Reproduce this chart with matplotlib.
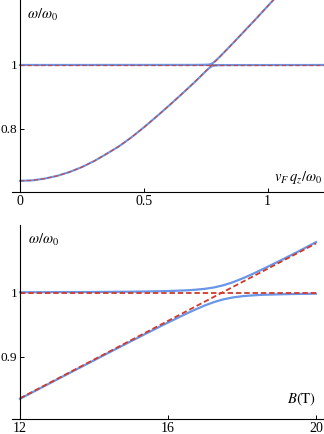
import matplotlib
matplotlib.use("Agg")
import matplotlib.pyplot as plt

# ------------------------------------------------------------------
# Plot style
# ------------------------------------------------------------------
plt.rcParams.update({
    "font.family": "Liberation Serif",
    "mathtext.fontset": "stix",
    "font.size": 10,
    "ytick.labelsize": 9.5,
    "axes.linewidth": 0.8,
    "xtick.direction": "in",
    "ytick.direction": "in",
    "xtick.major.size": 3,
    "ytick.major.size": 3,
    "xtick.major.width": 0.7,
    "ytick.major.width": 0.7,
    "xtick.major.pad": 2,
    "ytick.major.pad": 2,
})

BLUE = "#6a96e8"   # coupled modes
RED = "#d0392b"    # bare modes (dashed)

# ---- top panel: omega/omega0 vs v_F q_z / omega0 ----
q_bare = [0.0, 0.05, 0.1, 0.15, 0.2, 0.25, 0.3, 0.35, 0.4, 0.45, 0.5,
          0.55, 0.6, 0.65, 0.7, 0.75, 0.8, 0.85, 0.9, 0.95, 1.0, 1.03]
w_bare = [0.638, 0.6394, 0.645, 0.6535, 0.6655, 0.681, 0.700, 0.7225,
          0.746, 0.774, 0.805, 0.838, 0.872, 0.907, 0.943, 0.981, 1.020,
          1.060, 1.101, 1.142, 1.184, 1.209]
q_flat = [0.0, 1.23]
w_flat = [1.0, 1.0]

q_up = [0.0, 0.70, 0.74, 0.755, 0.765, 0.774, 0.782, 0.79, 0.80, 0.82,
        0.85, 0.9, 0.95, 1.0, 1.03]
w_up = [1.000, 1.0003, 1.0006, 1.0010, 1.0018, 1.004, 1.0082, 1.0137,
        1.0208, 1.0364, 1.0603, 1.101, 1.142, 1.184, 1.209]
q_lo = [0.0, 0.05, 0.1, 0.15, 0.2, 0.25, 0.3, 0.35, 0.4, 0.45, 0.5,
        0.55, 0.6, 0.65, 0.7, 0.74, 0.755, 0.765, 0.774, 0.782, 0.79,
        0.80, 0.82, 0.85, 0.9, 1.23]
w_lo = [0.638, 0.6394, 0.645, 0.6535, 0.6655, 0.681, 0.700, 0.7225,
        0.746, 0.774, 0.805, 0.838, 0.872, 0.907, 0.9427, 0.9729, 0.9842,
        0.9912, 0.996, 0.998, 0.9988, 0.9992, 0.9996, 0.9997, 0.9998, 1.0]

top_xticks = [0, 0.5, 1]
top_xlabels = ["0", "0.5", "1"]
top_yticks = [0.8, 1]
top_ylabels = ["0.8", "1"]

# ---- bottom panel: omega/omega0 vs B (T) ----
B_bare = [12, 20]
w_cyc = [0.835, 1.077]
B_flat = [12, 20]

B = [12, 13, 14, 15, 15.5, 16, 16.5, 16.75, 17, 17.25, 17.5, 17.75, 18,
     18.25, 18.5, 19, 19.5, 20]
w_B_up = [1.0007, 1.0009, 1.0011, 1.0016, 1.0020, 1.0026, 1.0037, 1.0047,
          1.0061, 1.0083, 1.0117, 1.0163, 1.0220, 1.0283, 1.0351, 1.0492,
          1.0638, 1.0790]
w_B_lo = [0.8343, 0.8644, 0.8944, 0.9242, 0.9389, 0.9534, 0.9674, 0.9740,
          0.9802, 0.9855, 0.9897, 0.9926, 0.9945, 0.9957, 0.9966, 0.9975,
          0.9981, 0.9985]

bot_xticks = [12, 16, 20]
bot_xlabels = ["12", "16", "20"]
bot_yticks = [0.9, 1]
bot_ylabels = ["0.9", "1"]


def style_axes(ax, x0, xticks, xlabels, yticks, ylabels):
    """Mathematica-like axes: left axis through x0, bottom axis at the frame."""
    ax.spines["top"].set_visible(False)
    ax.spines["right"].set_visible(False)
    ax.spines["left"].set_position(("data", x0))
    ax.set_xticks(xticks)
    ax.set_xticklabels(xlabels)
    ax.set_yticks(yticks)
    ax.set_yticklabels(ylabels)
    ax.patch.set_visible(False)


fig = plt.figure(figsize=(3.24, 4.34), dpi=100)

# ---- 1. dispersion vs q ----
ax1 = fig.add_axes([12 / 324, 242 / 434, 312 / 324, 192 / 434])
ax1.plot(q_flat, w_flat, color=BLUE, lw=1.5)
ax1.plot(q_up, w_up, color=BLUE, lw=1.5)
ax1.plot(q_lo, w_lo, color=BLUE, lw=1.5)
ax1.plot(q_flat, w_flat, color=RED, lw=0.9, dashes=(3.5, 2), alpha=0.8)
ax1.plot(q_bare, w_bare, color=RED, lw=0.9, dashes=(3.5, 2), alpha=0.8)
ax1.set_xlim(-0.0323, 1.2273)
ax1.set_ylim(0.6031, 1.2031)
style_axes(ax1, 0, top_xticks, top_xlabels, top_yticks, top_ylabels)
ax1.text(0.048, 0.922, r"$\omega/\omega_0$", transform=ax1.transAxes,
         fontsize=10.5, ha="left", va="center")
ax1.text(0.995, 0.075, r"$v_F\,q_z/\omega_0$", transform=ax1.transAxes,
         fontsize=10.5, ha="right", va="center")

# ---- 2. dispersion vs B ----
ax2 = fig.add_axes([12 / 324, 15 / 434, 312 / 324, 194 / 434])
ax2.plot(B, w_B_up, color=BLUE, lw=1.6)
ax2.plot(B, w_B_lo, color=BLUE, lw=1.6)
ax2.plot(B_flat, w_flat, color=RED, lw=1.3, dashes=(3, 1.6))
ax2.plot(B_bare, w_cyc, color=RED, lw=1.3, dashes=(3, 1.6))
ax2.set_xlim(11.784, 20.216)
ax2.set_ylim(0.8027, 1.1058)
style_axes(ax2, 12, bot_xticks, bot_xlabels, bot_yticks, bot_ylabels)
ax2.text(0.051, 0.923, r"$\omega/\omega_0$", transform=ax2.transAxes,
         fontsize=10.5, ha="left", va="center")
ax2.text(0.975, 0.103, r"$B(\mathrm{T})$", transform=ax2.transAxes,
         fontsize=10.5, ha="right", va="center")

fig.savefig("out.png", dpi=100)
plt.close(fig)
